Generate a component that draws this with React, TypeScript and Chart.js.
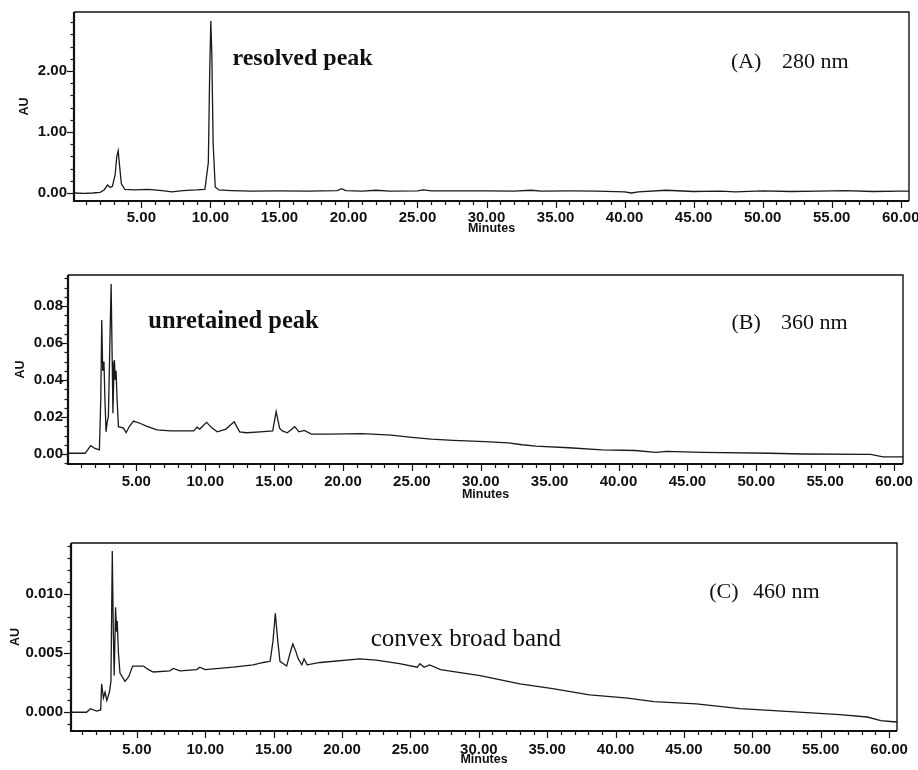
import React, { useEffect, useRef } from 'react';
import { Chart, registerables } from 'chart.js';

Chart.register(...registerables);

// ---------- Data (minutes, AU) ----------
const timeA = [0.15, 0.8, 1.5, 2.0, 2.3, 2.55, 2.75, 2.9, 3.1, 3.22, 3.32, 3.42, 3.55, 3.8, 4.5, 5.5, 6.5, 7.2, 8.0, 9.0, 9.6, 9.85, 9.95, 10.03, 10.1, 10.2, 10.35, 10.6, 11.5, 13, 15, 17, 19.2, 19.5, 19.8, 21, 22, 23, 25, 25.4, 26, 28, 30, 32, 33.2, 34, 36, 38, 40, 40.5, 41, 43, 45, 47, 48, 50, 52, 54, 56, 58, 60, 60.8];
const auA = [0.0, -0.005, 0.0, 0.01, 0.05, 0.13, 0.09, 0.11, 0.3, 0.6, 0.69, 0.45, 0.15, 0.06, 0.05, 0.06, 0.04, 0.02, 0.04, 0.05, 0.06, 0.5, 2.0, 2.82, 2.3, 0.8, 0.1, 0.05, 0.04, 0.03, 0.035, 0.03, 0.04, 0.07, 0.04, 0.03, 0.045, 0.03, 0.035, 0.05, 0.035, 0.035, 0.035, 0.03, 0.045, 0.03, 0.035, 0.03, 0.02, 0.0, 0.02, 0.045, 0.025, 0.03, 0.02, 0.035, 0.025, 0.03, 0.04, 0.025, 0.03, 0.03];

const timeB = [0.05, 1.28, 1.69, 2.0, 2.32, 2.42, 2.49, 2.56, 2.65, 2.72, 2.8, 2.9, 2.97, 3.08, 3.17, 3.25, 3.3, 3.36, 3.41, 3.47, 3.53, 3.6, 3.7, 4.07, 4.26, 4.5, 4.8, 5.3, 5.77, 6.5, 7.5, 9.17, 9.4, 9.6, 10.1, 10.5, 10.87, 11.5, 12.1, 12.5, 13.0, 14.0, 14.9, 15.15, 15.4, 15.6, 15.96, 16.5, 16.8, 17.2, 17.7, 19.0, 21.4, 23.5, 25.0, 26.4, 28.0, 30.3, 32.0, 33.0, 34.0, 36.4, 38.8, 41.2, 42.7, 43.5, 46.1, 51.0, 53.4, 58.3, 59.2, 60.8];
const auB = [0.0004, 0.0004, 0.0045, 0.003, 0.0022, 0.03, 0.0724, 0.045, 0.05, 0.03, 0.012, 0.018, 0.02, 0.06, 0.0919, 0.05, 0.022, 0.04, 0.0508, 0.04, 0.045, 0.03, 0.0148, 0.014, 0.0115, 0.015, 0.0178, 0.0165, 0.015, 0.013, 0.0125, 0.0125, 0.0145, 0.0135, 0.0171, 0.014, 0.012, 0.0135, 0.0174, 0.012, 0.0115, 0.012, 0.0125, 0.0229, 0.014, 0.0125, 0.0115, 0.0148, 0.012, 0.0128, 0.0108, 0.0108, 0.011, 0.0102, 0.009, 0.008, 0.0074, 0.0067, 0.006, 0.005, 0.0043, 0.0034, 0.0022, 0.0019, 0.0009, 0.0014, 0.0009, 0.0004, 0.0, -0.0002, -0.0015, -0.0015];

const timeC = [0.18, 1.32, 1.6, 2.05, 2.35, 2.42, 2.55, 2.67, 2.8, 2.99, 3.1, 3.2, 3.27, 3.34, 3.44, 3.51, 3.56, 3.65, 3.76, 4.13, 4.4, 4.69, 5.47, 5.84, 6.2, 7.4, 7.66, 8.15, 9.37, 9.6, 9.98, 12.05, 13.5, 14.25, 14.74, 14.95, 15.12, 15.3, 15.46, 15.95, 16.2, 16.4, 16.6, 16.8, 17.06, 17.22, 17.45, 18.4, 21.3, 22.5, 24.2, 25.5, 25.7, 26.0, 26.4, 27.2, 30.1, 33.0, 35.4, 38.1, 40.9, 42.8, 45.9, 49.1, 52.8, 56.4, 58.4, 59.4, 60.3, 60.8];
const auC = [0.0, 0.0, 0.0003, 0.0001, 0.0002, 0.0024, 0.0012, 0.0017, 0.001, 0.0017, 0.0026, 0.0136, 0.007, 0.0031, 0.00885, 0.0068, 0.0077, 0.005, 0.0033, 0.0026, 0.003, 0.0039, 0.0039, 0.0036, 0.0034, 0.0035, 0.0037, 0.0035, 0.0036, 0.0038, 0.0036, 0.0038, 0.004, 0.0042, 0.0043, 0.006, 0.00835, 0.006, 0.0043, 0.0039, 0.005, 0.00576, 0.0052, 0.0045, 0.004, 0.0045, 0.004, 0.0042, 0.0045, 0.0044, 0.0041, 0.0038, 0.0041, 0.0038, 0.004, 0.0036, 0.0031, 0.0024, 0.002, 0.00146, 0.0012, 0.0009, 0.0007, 0.0003, 0.00005, -0.0002, -0.0004, -0.0007, -0.0008, -0.0008];

// Annotation texts anchored in data coordinates (left edge, vertical centre)
const noteTextA = ['resolved peak', '(A)', '280 nm'];
const noteTimeA = [11.6, 47.7, 51.4];
const noteAuA = [2.2, 2.15, 2.15];

const noteTextB = ['unretained peak', '(B)', '360 nm'];
const noteTimeB = [5.87, 48.2, 51.8];
const noteAuB = [0.0714, 0.0708, 0.0708];

const noteTextC = ['convex broad band', '(C)', '460 nm'];
const noteTimeC = [22.1, 46.85, 50.05];
const noteAuC = [0.00618, 0.0101, 0.0101];

const SERIF = '"Liberation Serif", "Times New Roman", serif';
const SANS = '"Liberation Sans", Arial, sans-serif';

type Panel = {
  times: number[];
  values: number[];
  noteText: string[];
  noteTime: number[];
  noteAu: number[];
  noteFont: string[];
  xMin: number; xMax: number;
  yMin: number; yMax: number;
  yMajor: number; yMinor: number; yDecimals: number;
  canvasTop: number; canvasHeight: number;
  areaLeft: number; areaRight: number; areaTop: number; areaBottom: number;
  auCenterX: number; minutesCenterY: number; xLabelPad: number; yLabelPad: number;
};

const panels: Panel[] = [
  {
    times: timeA, values: auA, noteText: noteTextA, noteTime: noteTimeA, noteAu: noteAuA,
    noteFont: [`bold 24px ${SERIF}`, `22px ${SERIF}`, `22px ${SERIF}`],
    xMin: 0.12, xMax: 60.6, yMin: -0.131, yMax: 2.967, yMajor: 1, yMinor: 0.2, yDecimals: 2,
    canvasTop: 0, canvasHeight: 240, areaLeft: 74, areaRight: 909, areaTop: 12, areaBottom: 201,
    auCenterX: 25, minutesCenterY: 229, xLabelPad: 8, yLabelPad: 7,
  },
  {
    times: timeB, values: auB, noteText: noteTextB, noteTime: noteTimeB, noteAu: noteAuB,
    noteFont: [`bold 24.5px ${SERIF}`, `22px ${SERIF}`, `22px ${SERIF}`],
    xMin: 0.04, xMax: 60.65, yMin: -0.0054, yMax: 0.0968, yMajor: 0.02, yMinor: 0.005, yDecimals: 2,
    canvasTop: 245, canvasHeight: 265, areaLeft: 68, areaRight: 903, areaTop: 275, areaBottom: 464,
    auCenterX: 21, minutesCenterY: 495, xLabelPad: 9, yLabelPad: 5,
  },
  {
    times: timeC, values: auC, noteText: noteTextC, noteTime: noteTimeC, noteAu: noteAuC,
    noteFont: [`25px ${SERIF}`, `22px ${SERIF}`, `22px ${SERIF}`],
    xMin: 0.18, xMax: 60.58, yMin: -0.00158, yMax: 0.01428, yMajor: 0.005, yMinor: 0.001, yDecimals: 3,
    canvasTop: 515, canvasHeight: 255, areaLeft: 71, areaRight: 897, areaTop: 543, areaBottom: 731,
    auCenterX: 16, minutesCenterY: 760, xLabelPad: 10, yLabelPad: 8,
  },
];

const framePlugin = {
  id: 'frame',
  afterDraw(chart: any, _args: any, opts: any) {
    const { ctx, chartArea } = chart;
    const { left, right, top, bottom } = chartArea;
    const xs = chart.scales.x;
    const ys = chart.scales.y;
    ctx.save();
    ctx.strokeStyle = '#111';
    ctx.lineWidth = 1.2;
    // x ticks: minor every minute, major every 5
    for (let v = Math.ceil(xs.min); v <= xs.max; v += 1) {
      const px = Math.round(xs.getPixelForValue(v)) + 0.5;
      const len = v % 5 === 0 ? 7 : 4;
      ctx.beginPath();
      ctx.moveTo(px, bottom);
      ctx.lineTo(px, bottom + len);
      ctx.stroke();
    }
    // y ticks
    const step = opts.yMinor;
    const major = opts.yMajor;
    const n0 = Math.ceil(ys.min / step - 1e-9);
    const n1 = Math.floor(ys.max / step + 1e-9);
    for (let i = n0; i <= n1; i++) {
      const v = i * step;
      const r = v / major;
      const isMajor = Math.abs(r - Math.round(r)) < 1e-6;
      const py = Math.round(ys.getPixelForValue(v)) + 0.5;
      ctx.beginPath();
      ctx.moveTo(left, py);
      ctx.lineTo(left - (isMajor ? 7 : 3.5), py);
      ctx.stroke();
    }
    // frame
    ctx.lineWidth = 1.4;
    ctx.beginPath();
    ctx.moveTo(left, top);
    ctx.lineTo(right, top);
    ctx.lineTo(right, bottom);
    ctx.stroke();
    ctx.lineWidth = 2.2;
    ctx.beginPath();
    ctx.moveTo(left, top);
    ctx.lineTo(left, bottom);
    ctx.lineTo(right, bottom);
    ctx.stroke();
    // annotations
    ctx.fillStyle = '#111';
    ctx.textAlign = 'left';
    ctx.textBaseline = 'middle';
    const notes = opts.notes as { text: string; t: number; v: number; font: string }[];
    for (const n of notes) {
      ctx.font = n.font;
      ctx.fillText(n.text, xs.getPixelForValue(n.t), ys.getPixelForValue(n.v));
    }
    ctx.restore();
  },
};

function PanelChart({ p }: { p: Panel }) {
  const ref = useRef<HTMLCanvasElement | null>(null);
  useEffect(() => {
    if (!ref.current) return;
    const W = 918;
    const H = p.canvasHeight;
    const yWidth = p.areaLeft;
    const xHeight = H - (p.areaBottom - p.canvasTop);
    const data = p.times.map((t, i) => ({ x: t, y: p.values[i] }));
    const notes = p.noteText.map((text, i) => ({ text, t: p.noteTime[i], v: p.noteAu[i], font: p.noteFont[i] }));
    const titleLH = 12.5 * 1.2;
    const chart = new Chart(ref.current, {
      type: 'line',
      data: {
        datasets: [
          {
            data,
            borderColor: '#1a1a1a',
            borderWidth: 1.3,
            pointRadius: 0,
            tension: 0,
            fill: false,
          },
        ],
      },
      options: {
        responsive: false,
        animation: false,
        devicePixelRatio: 1,
        events: [],
        layout: {
          padding: { left: 0, right: W - p.areaRight, top: p.areaTop - p.canvasTop, bottom: 0 },
        },
        plugins: {
          legend: { display: false },
          tooltip: { enabled: false },
          frame: { yMinor: p.yMinor, yMajor: p.yMajor, notes },
        } as any,
        scales: {
          x: {
            type: 'linear',
            min: p.xMin,
            max: p.xMax,
            grid: { display: false, drawTicks: false, tickLength: 0 },
            border: { display: false },
            ticks: {
              stepSize: 5,
              includeBounds: false,
              autoSkip: false,
              maxRotation: 0,
              padding: p.xLabelPad,
              color: '#111',
              font: { family: SANS, size: 15, weight: 'bold' },
              callback: (v: any) => Number(v).toFixed(2),
            },
            title: {
              display: true,
              text: 'Minutes',
              color: '#111',
              font: { family: SANS, size: 12.5, weight: 'bold' },
              padding: { top: 0, bottom: H - titleLH / 2 - (p.minutesCenterY - p.canvasTop) },
            },
            afterFit: (s: any) => {
              s.height = xHeight;
              s.paddingLeft = 0;
              s.paddingRight = 0;
            },
          },
          y: {
            type: 'linear',
            min: p.yMin,
            max: p.yMax,
            grid: { display: false, drawTicks: false, tickLength: 0 },
            border: { display: false },
            ticks: {
              stepSize: p.yMajor,
              includeBounds: false,
              autoSkip: false,
              padding: p.yLabelPad,
              color: '#111',
              font: { family: SANS, size: 15, weight: 'bold' },
              callback: (v: any) => Number(v).toFixed(p.yDecimals),
            },
            title: {
              display: true,
              text: 'AU',
              color: '#111',
              font: { family: SANS, size: 12.5, weight: 'bold' },
              padding: { top: p.auCenterX - titleLH / 2, bottom: 0 },
            },
            afterFit: (s: any) => {
              s.width = yWidth;
              s.paddingTop = 0;
              s.paddingBottom = 0;
            },
          },
        },
      } as any,
      plugins: [framePlugin as any],
    });
    return () => chart.destroy();
  }, [p]);
  return (
    <canvas
      ref={ref}
      width={918}
      height={p.canvasHeight}
      style={{ position: 'absolute', left: 0, top: p.canvasTop, width: 918, height: p.canvasHeight }}
    />
  );
}

export default function App() {
  return (
    <div style={{ position: 'absolute', left: 0, top: 0, width: 918, height: 770, background: '#fff' }}>
      {panels.map((p, i) => (
        <PanelChart key={i} p={p} />
      ))}
    </div>
  );
}
